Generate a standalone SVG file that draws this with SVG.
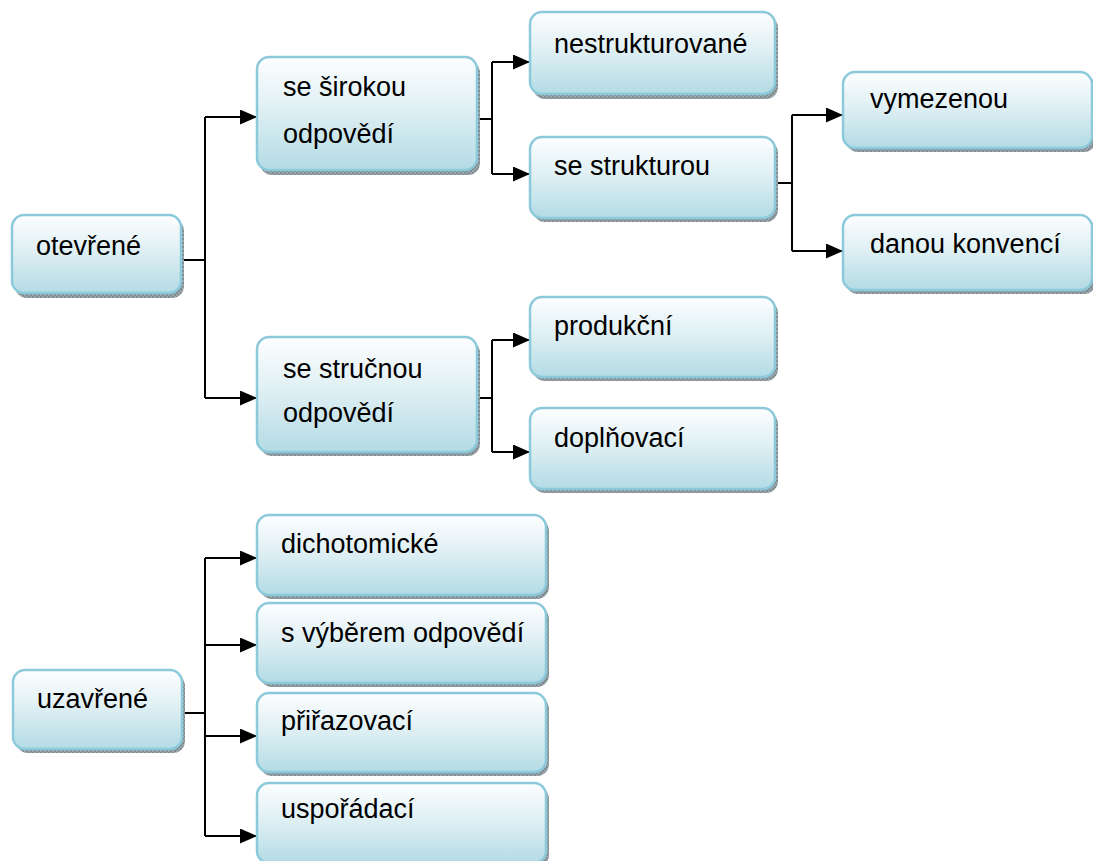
<svg xmlns="http://www.w3.org/2000/svg" width="1093" height="861" viewBox="0 0 1093 861">
  <defs>
    <linearGradient id="boxFill" x1="0" y1="0" x2="0" y2="1">
      <stop offset="0" stop-color="#fdfeff"/>
      <stop offset="0.45" stop-color="#e0f0f4"/>
      <stop offset="1" stop-color="#b3dbe5"/>
    </linearGradient>
    <pattern id="grain" width="4" height="4" patternUnits="userSpaceOnUse">
      <rect width="4" height="4" fill="#9aa6ab"/>
      <rect width="2" height="2" fill="#7f8c92"/>
      <rect x="2" y="2" width="2" height="2" fill="#7f8c92"/>
    </pattern>
    <marker id="arrow" markerUnits="userSpaceOnUse" markerWidth="17" markerHeight="15" refX="17" refY="7.5" orient="auto">
      <path d="M0,0 L17,7.5 L0,15 Z" fill="#000"/>
    </marker>
  </defs>
  <style>
    .shadow { fill: url(#grain); }
    .box { fill: url(#boxFill); stroke: #8ccadb; stroke-width: 2.5; }
    .label { font-family: "Liberation Sans", Arial, sans-serif; font-size: 27px; fill: #000; }
    .link { fill: none; stroke: #000; stroke-width: 2; }
    .arr { marker-end: url(#arrow); }
  </style>

  <rect width="1093" height="861" fill="#fff"/>

  <!-- connectors -->
  <g id="connectors">
    <!-- otevřené -->
    <path class="link" d="M181,260 H205"/>
    <path class="link" d="M205,117 V398"/>
    <path class="link arr" d="M205,117 H257"/>
    <path class="link arr" d="M205,398 H257"/>
    <!-- se širokou odpovědí -->
    <path class="link" d="M477,119 H492"/>
    <path class="link" d="M492,62 V174"/>
    <path class="link arr" d="M492,62 H530"/>
    <path class="link arr" d="M492,174 H530"/>
    <!-- se strukturou -->
    <path class="link" d="M775,183 H792"/>
    <path class="link" d="M792,115 V251"/>
    <path class="link arr" d="M792,115 H843"/>
    <path class="link arr" d="M792,251 H843"/>
    <!-- se stručnou odpovědí -->
    <path class="link" d="M477,398 H492"/>
    <path class="link" d="M492,340 V452"/>
    <path class="link arr" d="M492,340 H530"/>
    <path class="link arr" d="M492,452 H530"/>
    <!-- uzavřené -->
    <path class="link" d="M182,713 H205"/>
    <path class="link" d="M205,558 V836"/>
    <path class="link arr" d="M205,558 H257"/>
    <path class="link arr" d="M205,645 H257"/>
    <path class="link arr" d="M205,736 H257"/>
    <path class="link arr" d="M205,836 H257"/>
  </g>

  <!-- nodes -->
  <g id="otevrene">
    <rect class="shadow" x="15" y="219" width="169" height="79" rx="12"/>
    <rect class="box" x="12" y="215" width="169" height="78" rx="12"/>
    <text class="label" x="36" y="255">otevřené</text>
  </g>

  <g id="se-sirokou">
    <rect class="shadow" x="260" y="61" width="220" height="114" rx="12"/>
    <rect class="box" x="257" y="57" width="220" height="113" rx="12"/>
    <text class="label" x="283" y="96">se širokou</text>
    <text class="label" x="283" y="143">odpovědí</text>
  </g>

  <g id="nestrukturovane">
    <rect class="shadow" x="533" y="16" width="245" height="83" rx="12"/>
    <rect class="box" x="530" y="12" width="245" height="82" rx="12"/>
    <text class="label" x="554" y="53">nestrukturované</text>
  </g>

  <g id="se-strukturou">
    <rect class="shadow" x="533" y="141" width="245" height="81" rx="12"/>
    <rect class="box" x="530" y="137" width="245" height="81" rx="12"/>
    <text class="label" x="554" y="175">se strukturou</text>
  </g>

  <g id="vymezenou">
    <rect class="shadow" x="846" y="76" width="250" height="76" rx="12"/>
    <rect class="box" x="843" y="72" width="249" height="76" rx="12"/>
    <text class="label" x="870" y="108">vymezenou</text>
  </g>

  <g id="danou-konvenci">
    <rect class="shadow" x="846" y="219" width="250" height="75" rx="12"/>
    <rect class="box" x="843" y="215" width="249" height="75" rx="12"/>
    <text class="label" x="870" y="253">danou konvencí</text>
  </g>

  <g id="se-strucnou">
    <rect class="shadow" x="260" y="341" width="220" height="115" rx="12"/>
    <rect class="box" x="257" y="337" width="220" height="115" rx="12"/>
    <text class="label" x="283" y="378">se stručnou</text>
    <text class="label" x="283" y="422">odpovědí</text>
  </g>

  <g id="produkcni">
    <rect class="shadow" x="533" y="301" width="245" height="80" rx="12"/>
    <rect class="box" x="530" y="297" width="245" height="80" rx="12"/>
    <text class="label" x="554" y="335">produkční</text>
  </g>

  <g id="doplnovaci">
    <rect class="shadow" x="533" y="412" width="245" height="81" rx="12"/>
    <rect class="box" x="530" y="408" width="245" height="81" rx="12"/>
    <text class="label" x="554" y="447">doplňovací</text>
  </g>

  <g id="uzavrene">
    <rect class="shadow" x="16" y="674" width="169" height="79" rx="12"/>
    <rect class="box" x="13" y="670" width="169" height="79" rx="12"/>
    <text class="label" x="37" y="708">uzavřené</text>
  </g>

  <g id="dichotomicke">
    <rect class="shadow" x="260" y="519" width="289" height="80" rx="12"/>
    <rect class="box" x="257" y="515" width="289" height="80" rx="12"/>
    <text class="label" x="281" y="553">dichotomické</text>
  </g>

  <g id="s-vyberem">
    <rect class="shadow" x="260" y="607" width="289" height="80" rx="12"/>
    <rect class="box" x="257" y="603" width="289" height="80" rx="12"/>
    <text class="label" x="281" y="642">s výběrem odpovědí</text>
  </g>

  <g id="prirazovaci">
    <rect class="shadow" x="260" y="697" width="289" height="79" rx="12"/>
    <rect class="box" x="257" y="693" width="289" height="79" rx="12"/>
    <text class="label" x="281" y="730">přiřazovací</text>
  </g>

  <g id="usporadaci">
    <rect class="shadow" x="260" y="787" width="289" height="80" rx="12"/>
    <rect class="box" x="257" y="783" width="289" height="80" rx="12"/>
    <text class="label" x="281" y="818">uspořádací</text>
  </g>
</svg>
